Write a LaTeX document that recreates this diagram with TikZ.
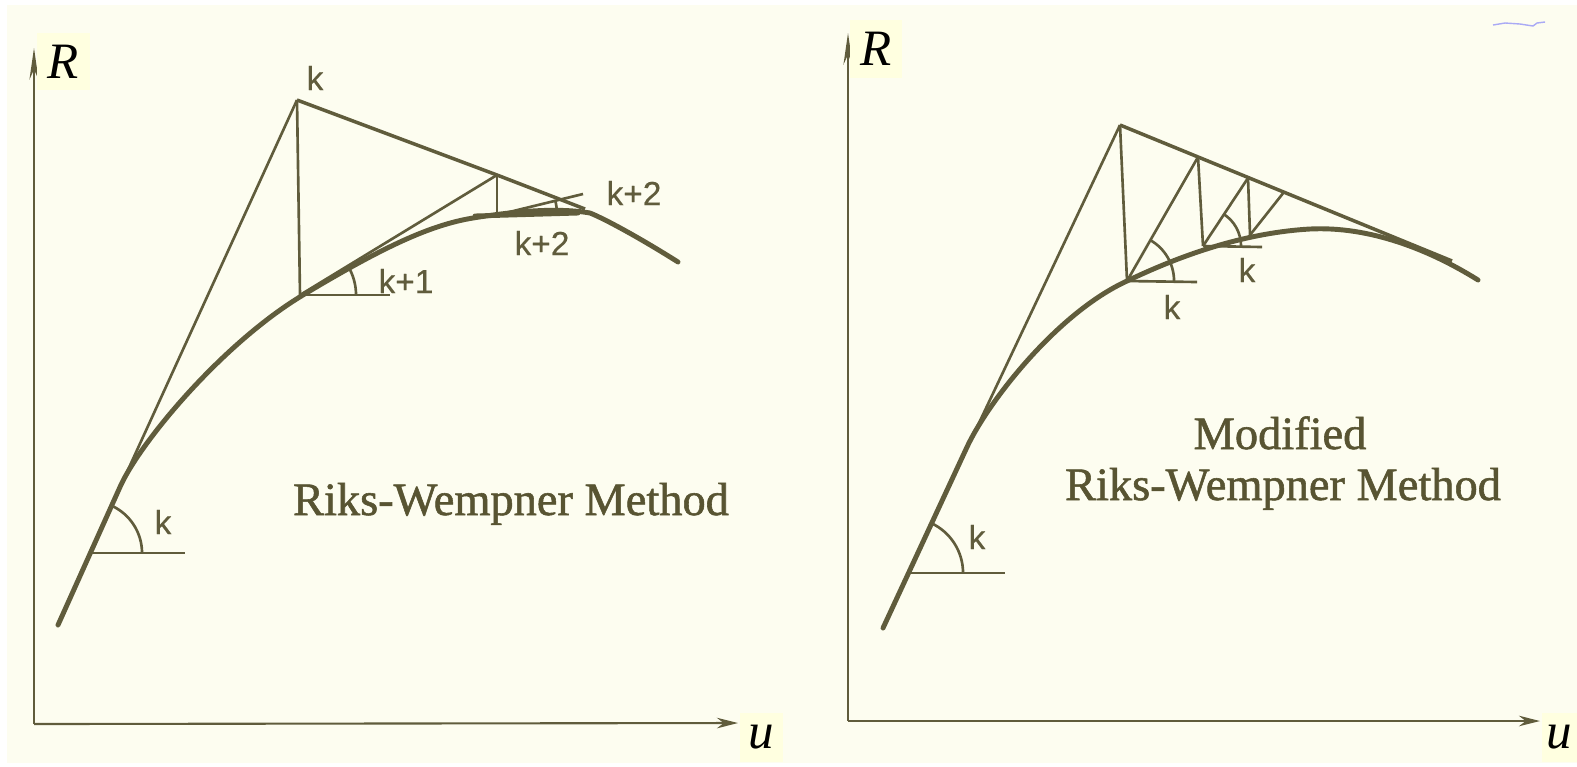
\documentclass[tikz,border=0pt]{standalone}
\usepackage{fontspec}
\setmainfont{Liberation Serif}
\newfontfamily\lblfont{Liberation Sans}[FakeBold=0.4]
\newfontfamily\ttlfont{Liberation Serif}[FakeBold=1.2]
\usetikzlibrary{arrows.meta}
\definecolor{paper}{RGB}{253,253,240}
\definecolor{boxcol}{RGB}{255,255,224}
\definecolor{ink}{RGB}{96,92,60}
\definecolor{textink}{RGB}{88,84,50}
\definecolor{scrib}{RGB}{170,170,245}
\begin{document}
\begin{tikzpicture}[x=0.01cm,y=-0.01cm,
  axisline/.style={draw=ink,line width=0.6pt},
  yarrow/.style={-{Stealth[length=9pt,width=2.6pt]}},
  xarrow/.style={-{Stealth[length=6pt,width=3pt]}},
  thinline/.style={draw=ink,line width=0.75pt},
  upperline/.style={draw=ink,line width=1pt},
  curveline/.style={draw=ink,line width=1.4pt,line cap=round,line join=round},
  anglbl/.style={font=\lblfont\fontsize{9.5}{10}\selectfont,text=ink,inner sep=0pt},
  axlbl/.style={fill=boxcol,font=\fontsize{14.5}{15}\selectfont\itshape,text=black,inner sep=0pt},
  titletext/.style={font=\ttlfont\fontsize{13.2}{15}\selectfont,text=textink,inner sep=0pt,anchor=base}
]
% background
\useasboundingbox (0,0) rectangle (1577,766);
\fill[white] (0,0) rectangle (1577,766);
\fill[paper] (7,5) rectangle (1577,763);
\draw[scrib,line width=0.4pt] (1493,25) -- (1505,23) -- (1520,24) -- (1533,26) -- (1537,23) -- (1545,22);

% ===================== LEFT PANEL =====================
\coordinate (O1) at (34,724);
\coordinate (Y1) at (34,48);
\coordinate (X1) at (738,723);
\draw[axisline,yarrow] (O1) -- (Y1);
\draw[axisline,xarrow] (O1) -- (X1);
\node[axlbl,minimum width=0.53cm,minimum height=0.57cm] (R1) at (63.5,61.5) {R};
\node[axlbl,minimum width=0.43cm,minimum height=0.49cm] (U1) at (761.5,737.5) {u};

% curve
\draw[curveline] (58,625) -- (120,487)
  .. controls (140,442) and (223,343) .. (303,295)
  .. controls (383,247) and (430,225) .. (473,218)
  .. controls (510,212) and (555,207) .. (590,213)
  .. controls (605,219) and (640,238) .. (678,262);

\coordinate (A) at (90,553);
\coordinate (K) at (297,100);
\coordinate (B) at (300,295);
\coordinate (C) at (497,175);
\coordinate (D) at (497,215);
\coordinate (Bh) at (390,295);
\coordinate (Ah) at (185,553);
\coordinate (D0) at (475,216);
\coordinate (Dh) at (578,213);
\coordinate (Dt) at (583,194);
\coordinate (Ke) at (585,209);

\draw[thinline] (A) -- (K);
\draw[thinline] (A) -- (Ah);
\draw[thinline] (A) ++(0:0.52cm) arc[start angle=0,end angle=65.4,radius=0.52cm];
\node[anglbl] (kA) at (163,522) {k};

\draw[thinline] (K) -- (B);
\draw[upperline] (K) -- (C) -- (Ke);
\node[anglbl] (kK) at (315,78) {k};

\draw[thinline] (B) -- (C);
\draw[thinline] (B) -- (Bh);
\draw[thinline] (B) ++(0:0.56cm) arc[start angle=0,end angle=31.4,radius=0.56cm];
\node[anglbl] (kB) at (406,281) {k+1};

\draw[thinline] (C) -- (D);
\draw[curveline] (D0) -- (Dh);
\draw[thinline] (D) -- (Dt);
\draw[thinline] (D) ++(0:0.6cm) arc[start angle=0,end angle=13.7,radius=0.6cm];
\node[anglbl] (kD1) at (634,193) {k+2};
\node[anglbl] (kD2) at (542,243) {k+2};

\node[titletext] (T1) at (511,515) {Riks-Wempner Method};

% ===================== RIGHT PANEL =====================
\coordinate (O2) at (848,721);
\coordinate (Y2) at (848,33);
\coordinate (X2) at (1540,721);
\draw[axisline,yarrow] (O2) -- (Y2);
\draw[axisline,xarrow] (O2) -- (X2);
\node[axlbl,minimum width=0.52cm,minimum height=0.58cm] (R2) at (876,49) {R};
\node[axlbl,minimum width=0.35cm,minimum height=0.49cm] (U2) at (1559.5,737.5) {u};

\draw[curveline] (883,628) -- (967,447)
  .. controls (988,402) and (1057,313) .. (1127,281)
  .. controls (1175,258) and (1240,233) .. (1310,229)
  .. controls (1370,226) and (1430,250) .. (1478,280);

\coordinate (A2) at (908,573);
\coordinate (A2h) at (1005,573);
\coordinate (K2) at (1120,125);
\coordinate (E2) at (1452,261);
\coordinate (P1) at (1127,281);
\coordinate (P1h) at (1197,282);
\coordinate (Q1) at (1198,157);
\coordinate (P2) at (1203,246);
\coordinate (P2h) at (1262,247);
\coordinate (Q2) at (1248,178);
\coordinate (P3) at (1250,235);
\coordinate (Q3) at (1284,192);

\draw[thinline] (A2) -- (K2);
\draw[thinline] (A2) -- (A2h);
\draw[thinline] (A2) ++(0:0.55cm) arc[start angle=0,end angle=64.7,radius=0.55cm];
\node[anglbl] (kA2) at (977,537) {k};

\draw[upperline] (K2) -- (E2);
\draw[thinline] (K2) -- (P1);
\draw[thinline] (P1) -- (Q1);
\draw[thinline] (P1) -- (P1h);
\draw[thinline] (P1) ++(0:0.47cm) arc[start angle=0,end angle=60.4,radius=0.47cm];
\node[anglbl] (kP1) at (1172,307) {k};

\draw[thinline] (Q1) -- (P2);
\draw[thinline] (P2) -- (Q2);
\draw[thinline] (P2) -- (P2h);
\draw[thinline] (P2) ++(0:0.38cm) arc[start angle=0,end angle=57.3,radius=0.38cm];
\node[anglbl] (kP2) at (1247,270) {k};

\draw[thinline] (Q2) -- (P3);
\draw[thinline] (P3) -- (Q3);

\node[titletext] (T2a) at (1280,449) {Modified};
\node[titletext] (T2b) at (1283,500) {Riks-Wempner Method};
\end{tikzpicture}
\end{document}
